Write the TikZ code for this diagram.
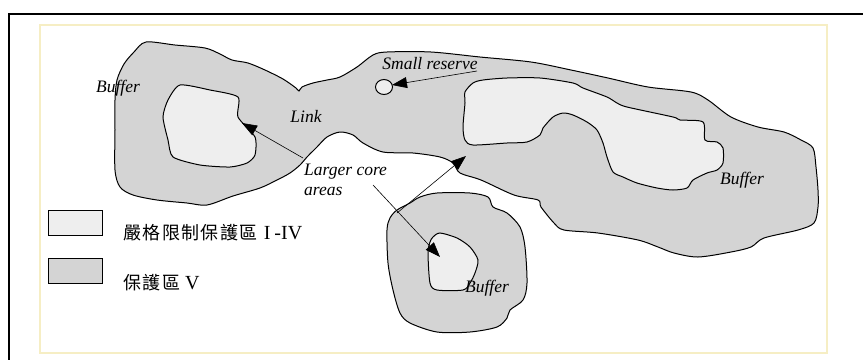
\documentclass[tikz,border=0pt]{standalone}
\usepackage{fontspec}
\setmainfont{Liberation Serif}
\newfontfamily\cjk[LetterSpace=8]{Noto Sans CJK TC}
\usetikzlibrary{arrows.meta}
\definecolor{bufgray}{RGB}{212,212,212}
\definecolor{coregray}{RGB}{238,238,238}
\definecolor{frameyellow}{RGB}{246,238,196}
\begin{document}
\begin{tikzpicture}[x=1pt,y=-1pt,
  region/.style={draw=black, line width=1pt, fill=bufgray},
  core/.style={draw=black, line width=1pt, fill=coregray},
  lbl/.style={font=\itshape\fontsize{17.5}{19.5}\selectfont, inner sep=0pt},
  legtext/.style={font=\fontsize{20}{21}\selectfont, inner sep=0pt, anchor=west},
  legbox/.style={draw=black, line width=0.9pt},
  ptr/.style={line width=0.6pt, -{Triangle[length=15pt,width=11pt]}}]
\useasboundingbox (0,0) rectangle (863,360);
\fill[white] (0,0) rectangle (863,360);
% frames
\draw[frameyellow, line width=2.2pt] (40,25) rectangle (827,353);
\draw[black, line width=1.5pt] (863,14) -- (9,14) -- (9,360);
% main buffer region
\draw[region] plot[smooth cycle, tension=0.5] coordinates {
 (146,42) (175,45) (205,48) (220,54) (232,60) (248,63) (265,70) (283,79) (296,88) (299,91)
 (302,87) (313,83) (327,80) (340,77) (357,67) (373,55) (387,52) (431,52) (480,57) (531,62)
 (571,70) (608,78) (648,87) (691,92) (708,100) (731,117) (758,127) (784,132) (801,140)
 (813,148) (816,167) (818,190) (818,207) (814,223) (798,230) (764,238) (751,247) (731,252)
 (698,257) (674,253) (658,247) (638,240) (598,233) (564,230) (554,223) (541,207) (538,200)
 (514,195) (481,180) (460,173) (453,163) (440,157) (413,153) (383,152) (363,143) (353,135)
 (340,132) (327,137) (317,147) (307,157) (300,165) (290,173) (277,180) (260,188) (233,196)
 (207,205) (187,203) (157,200) (133,195) (120,187) (115,170) (115,130) (115,100) (117,80)
 (124,64) (134,52)};
% left core
\draw[core] plot[smooth cycle, tension=0.4] coordinates {
 (180,85) (210,90) (238,97) (238,117) (255,137) (255,155) (247,163) (230,167) (200,165)
 (173,157) (168,140) (163,117) (168,100)};
% right core
\draw[core] plot[smooth cycle, tension=0.45] coordinates {
 (465,92) (473,83) (483,80) (507,78) (540,78) (573,83) (583,88) (607,97) (617,103) (627,107)
 (673,117) (680,120) (703,122) (705,140) (717,142) (723,148) (723,163) (717,170) (707,173)
 (693,180) (687,188) (673,190) (657,188) (637,183) (623,177) (613,172) (607,157) (603,143)
 (597,130) (587,122) (573,115) (563,113) (553,117) (543,128) (540,135) (527,142) (507,143)
 (473,145) (465,140) (463,127) (465,103)};
% small reserve
\draw[core] (384,87) ellipse [x radius=8.5, y radius=7.5];
% bottom buffer region
\draw[region] plot[smooth cycle, tension=0.5] coordinates {
 (397,210) (390,218) (387,230) (388,263) (393,290) (400,313) (410,323) (437,332) (470,332)
 (497,327) (507,318) (510,310) (523,300) (527,283) (525,247) (520,227) (507,213) (493,207)
 (488,197) (470,193) (437,193) (420,197) (410,203)};
% bottom core
\draw[core] plot[smooth cycle, tension=0.45] coordinates {
 (433,237) (440,233) (457,238) (470,247) (478,260) (475,273) (470,283) (463,290) (437,290)
 (430,283) (428,253) (430,242)};
% labels
\node[lbl] (bufL) at (118,88) {Buffer};
\node[lbl] (link) at (306,116) {Link};
\node[lbl] (small) at (430,64) {Small reserve};
\node[lbl, align=left, anchor=north west] (larger) at (304,164) {Larger core\\areas};
\node[lbl] (bufR) at (742,180) {Buffer};
\node[lbl] (bufB) at (487,288) {Buffer};
% pointer coordinates
\coordinate (a1s) at (303,158);
\coordinate (a1t) at (242,123);
\coordinate (a2s) at (477,71);
\coordinate (a2t) at (392,85);
\coordinate (a3s) at (397,213);
\coordinate (a3t) at (466,156);
\coordinate (a4s) at (373,185);
\coordinate (a4t) at (440,257);
\draw[ptr] (a1s) -- (a1t);
\draw[ptr] (a2s) -- (a2t);
\draw[ptr] (a3s) -- (a3t);
\draw[ptr] (a4s) -- (a4t);
% legend
\draw[legbox, fill=coregray] (48,210) rectangle (102,235);
\draw[legbox, fill=bufgray] (48,258) rectangle (102,283);
\node[legtext] (leg1) at (123,233) {{\cjk\fontsize{18}{20}\selectfont 嚴格限制保護區}\hspace{6pt}I\hspace{4pt}-IV};
\node[legtext] (leg2) at (123,283) {{\cjk\fontsize{18}{20}\selectfont 保護區}\hspace{5pt}V};
\end{tikzpicture}
\end{document}
